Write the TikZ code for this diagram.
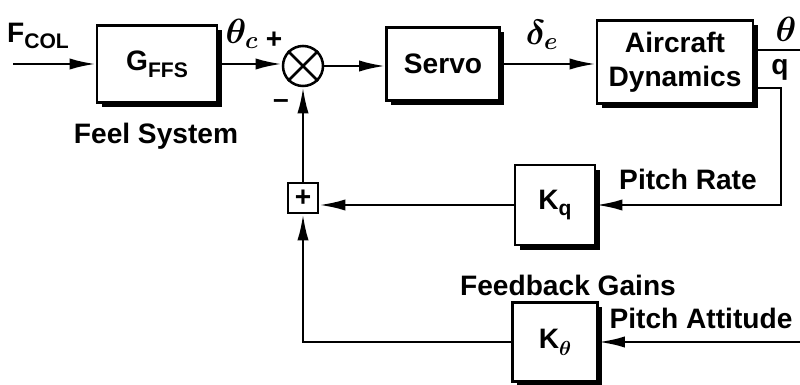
\documentclass[tikz,border=0pt]{standalone}
\usepackage{amsmath,amssymb}
\usepackage{fontspec}
\setmainfont{Liberation Sans}
\usepackage{tikz}
\usetikzlibrary{arrows.meta, positioning, shadows}

\newcommand{\lowsub}[1]{\raisebox{-0.45ex}{\fontsize{15}{15}\selectfont #1}}

\begin{document}
\begin{tikzpicture}[
    x=0.025cm, y=-0.025cm,
    line width=1.8pt,
    font=\fontsize{20}{24}\selectfont\bfseries\boldmath,
    block/.style={draw, fill=white, line width=1.8pt, align=center,
                  drop shadow={shadow xshift=0.12cm, shadow yshift=-0.12cm,
                               fill=black, opacity=1}},
    arr/.style={-{Latex[length=0.65cm, width=0.28cm]}},
    lbl/.style={inner sep=0pt},
    sym/.style={inner sep=0pt, font=\fontsize{27}{30}\selectfont\boldmath}
]
\useasboundingbox (0,0) rectangle (800,385);

% Forward path
\node[block, minimum width=3cm, minimum height=1.925cm]   (gffs)  at (157,64) {G\lowsub{FFS}};
\node[draw, circle, minimum size=1cm, inner sep=0pt]      (sum)   at (303,66) {};
\node[block, minimum width=2.825cm, minimum height=1.825cm] (servo) at (443,64) {Servo};
\node[block, minimum width=3.9cm, minimum height=2.075cm]  (acdyn) at (675,62) {Aircraft\\Dynamics};
\draw (sum.45) -- (sum.225) (sum.135) -- (sum.315);

% Feedback gains
\node[block, minimum width=2cm, minimum height=2cm]        (kq)    at (555,205) {K\lowsub{q}};
\node[block, minimum width=2.125cm, minimum height=1.975cm] (kth)  at (555,342) {K\lowsub{$\theta$}};
\node[draw, minimum size=0.75cm, inner sep=0pt]            (plus)  at (303,198) {+};

% Free ends
\coordinate (fin)   at (13,64);
\coordinate (thout) at (800,50);
\coordinate (qout)  at (781,88);
\coordinate (thin)  at (800,342);

% Arrows
\draw[arr] (fin) -- (gffs.west);
\draw[arr] (gffs.east) -- (gffs.east -| sum.west);
\draw[arr] (sum.east) -- (sum.east -| servo.west);
\draw[arr] (servo.east) -- (servo.east -| acdyn.west);
\draw (thout -| acdyn.east) -- (thout);
\draw[arr] (qout -| acdyn.east) -- (qout) |- (kq.east);
\draw[arr] (thin) -- (kth.east);
\draw[arr] (kq.west) -- (kq.west -| plus.east);
\draw[arr] (kth.west) -| (plus.south);
\draw[arr] (plus.north) -- (sum.south);

% Labels
\node[lbl] (fcol)  at (38,36)  {F\lowsub{COL}};
\node[sym] (thc)   at (242,34) {$\theta_c$};
\node[lbl] (pls)   at (274,40) {+};
\node[lbl] (mns)   at (281,104) {--};
\node[sym] (dle)   at (542,35) {$\delta_e$};
\node[sym] (th)    at (786,29) {$\theta$};
\node[lbl] (q)     at (780,70) {q};
\node[lbl] (feel)  at (156,136) {Feel System};
\node[lbl] (prate) at (688,179) {Pitch Rate};
\node[lbl] (fbg)   at (568,285) {Feedback Gains};
\node[lbl] (patt)  at (701,318) {Pitch Attitude};

\end{tikzpicture}
\end{document}
